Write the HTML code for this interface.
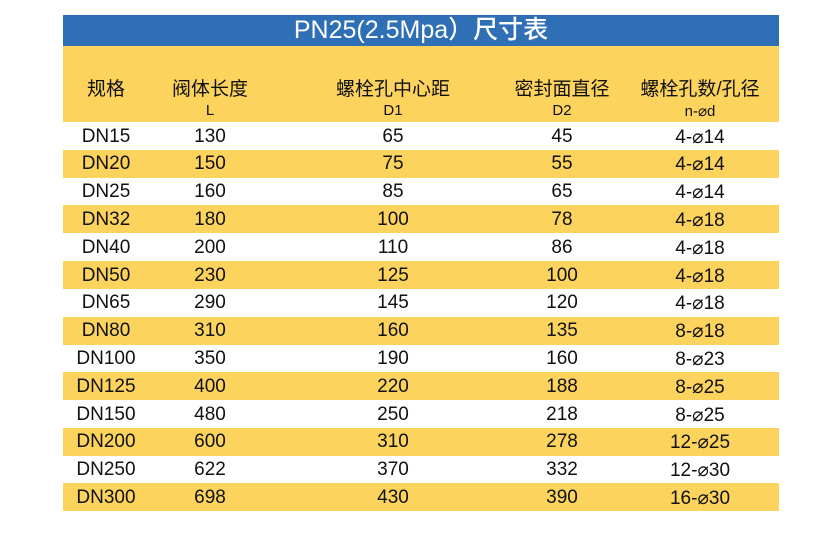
<!DOCTYPE html>
<html><head><meta charset="utf-8"><style>
body{margin:0;width:822px;height:536px;background:#fff;font-family:"Liberation Sans","Noto Sans CJK SC",sans-serif;position:relative;overflow:hidden}
.t{position:absolute;left:63px;top:15px;width:716px;height:31px;background:#2e6fb5;color:#fff;font-weight:500;font-size:25px;text-align:center;line-height:31px}
.h{position:absolute;left:63px;top:46px;width:716px;height:76px;background:#fcd35d}
.r{position:absolute;left:63px;width:716px;height:28px}
.y{background:#fcd35d}
.c{position:absolute;transform:translateX(-50%);white-space:nowrap;color:#111;font-size:19px}
</style></head><body>
<div class="t">PN25(2.5Mpa）尺寸表</div>
<div class="h"></div>
<div id="rows"></div>
<script>
const cx=[106,210,393,562,700];
const H=[["规格",""],["阀体长度","L"],["螺栓孔中心距","D1"],["密封面直径","D2"],["螺栓孔数/孔径","n-⌀d"]];
let s="";
H.forEach((h,i)=>{s+=`<div class="c" style="left:${cx[i]}px;top:74px;font-size:19px">${h[0]}</div>`;
if(h[1])s+=`<div class="c" style="left:${cx[i]}px;top:102px;font-size:15px">${h[1]}</div>`;});
const d=[["DN15",130,65,45,"4-⌀14"],["DN20",150,75,55,"4-⌀14"],["DN25",160,85,65,"4-⌀14"],["DN32",180,100,78,"4-⌀18"],["DN40",200,110,86,"4-⌀18"],["DN50",230,125,100,"4-⌀18"],["DN65",290,145,120,"4-⌀18"],["DN80",310,160,135,"8-⌀18"],["DN100",350,190,160,"8-⌀23"],["DN125",400,220,188,"8-⌀25"],["DN150",480,250,218,"8-⌀25"],["DN200",600,310,278,"12-⌀25"],["DN250",622,370,332,"12-⌀30"],["DN300",698,430,390,"16-⌀30"]];
d.forEach((r,j)=>{const top=122+j*27.8;
s+=`<div class="r ${j%2?'y':''}" style="top:${top}px"></div>`;
r.forEach((v,i)=>{s+=`<div class="c" style="left:${cx[i]}px;top:${top+3.5}px">${v}</div>`;});});
document.getElementById("rows").innerHTML=s;
</script>
</body></html>
